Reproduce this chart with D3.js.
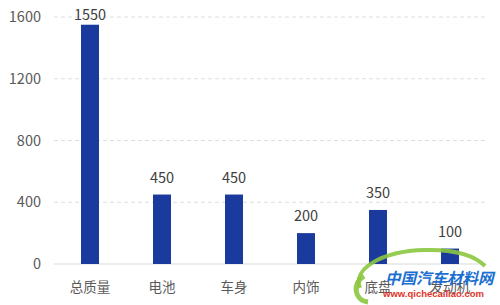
<!DOCTYPE html>
<html>
<head>
<meta charset="utf-8">
<script src="https://cdn.jsdelivr.net/npm/d3@7"></script>
<style>
  body { margin: 0; background: #fff; }
  svg { display: block; }
</style>
</head>
<body>
<svg id="chart" width="500" height="305"></svg>
<script>
// data
const categories = ["总质量", "电池", "车身", "内饰", "底盘", "发动机"];
const weights = [1550, 450, 450, 200, 350, 100];
const yTicks = [0, 400, 800, 1200, 1600];

const svg = d3.select("#chart");
const margin = { left: 54, right: 14, top: 17, bottom: 41 };
const width = 500, height = 305;

const x = d3.scaleBand()
    .domain(categories)
    .range([margin.left, width - margin.right])
    .paddingInner(0.75)
    .paddingOuter(0.375);

const y = d3.scaleLinear()
    .domain([0, 1600])
    .range([height - margin.bottom, margin.top]);

const font = "'Noto Sans CJK SC', 'Noto Sans', sans-serif";

// gridlines (dashed)
svg.append("g")
    .selectAll("line")
    .data(yTicks.filter(d => d > 0))
    .enter()
    .append("line")
    .attr("x1", margin.left)
    .attr("x2", width - margin.right)
    .attr("y1", d => y(d))
    .attr("y2", d => y(d))
    .attr("stroke", "#dedede")
    .attr("stroke-dasharray", "4,3");

// baseline
svg.append("line")
    .attr("x1", margin.left)
    .attr("x2", width - margin.right)
    .attr("y1", y(0))
    .attr("y2", y(0))
    .attr("stroke", "#d9d9d9");

// y axis labels
const yAxis = d3.axisLeft(y).tickValues(yTicks).tickFormat(d3.format("d")).tickSize(0).tickPadding(0);
const yg = svg.append("g")
    .attr("transform", `translate(41,0)`)
    .call(yAxis);
yg.select(".domain").remove();
yg.selectAll("text")
    .attr("font-family", font)
    .attr("font-size", 14.5)
    .attr("fill", "#595959");

// x axis labels
const xAxis = d3.axisBottom(x).tickSize(0).tickPadding(0);
const xg = svg.append("g")
    .attr("transform", `translate(0,${y(0) + 18})`)
    .call(xAxis);
xg.select(".domain").remove();
xg.selectAll("text")
    .attr("font-family", font)
    .attr("font-size", 13.5)
    .attr("fill", "#595959");

// bars
svg.append("g")
    .selectAll("rect")
    .data(weights)
    .enter()
    .append("rect")
    .attr("x", (d, i) => x(categories[i]))
    .attr("y", d => y(d))
    .attr("width", x.bandwidth())
    .attr("height", d => y(0) - y(d))
    .attr("fill", "#1b3a9e");

// value labels (the tallest one gets squeezed under the top edge)
svg.append("g")
    .selectAll("text")
    .data(weights)
    .enter()
    .append("text")
    .attr("x", (d, i) => x(categories[i]) + x.bandwidth() / 2)
    .attr("y", d => Math.max(y(d) - 12, 20))
    .attr("text-anchor", "middle")
    .attr("font-family", font)
    .attr("font-size", 14.5)
    .attr("fill", "#404040")
    .text(d => d);

// watermark (bottom right)
const wm = svg.append("g").attr("transform", "translate(350,248)");
wm.append("path")
    .attr("d", "M10,40 C2,22 30,3 75,2 C105,1 125,8 135,18")
    .attr("fill", "none")
    .attr("stroke", "#8cc63f")
    .attr("stroke-width", 4)
    .attr("opacity", 0.9);
wm.append("path")
    .attr("d", "M14,28 C2,36 4,52 18,54")
    .attr("fill", "none")
    .attr("stroke", "#8cc63f")
    .attr("stroke-width", 5)
    .attr("opacity", 0.9);
wm.append("text")
    .attr("x", 35)
    .attr("y", 36)
    .attr("font-family", font)
    .attr("font-size", 15.5)
    .attr("font-weight", "bold")
    .attr("font-style", "italic")
    .attr("fill", "#1a6fd1")
    .text("中国汽车材料网");
wm.append("text")
    .attr("x", 33)
    .attr("y", 49)
    .attr("font-family", "'Liberation Sans', sans-serif")
    .attr("font-size", 9.5)
    .attr("font-weight", "bold")
    .attr("fill", "#e0352b")
    .text("www.qichecailiao.com");
</script>
</body>
</html>
